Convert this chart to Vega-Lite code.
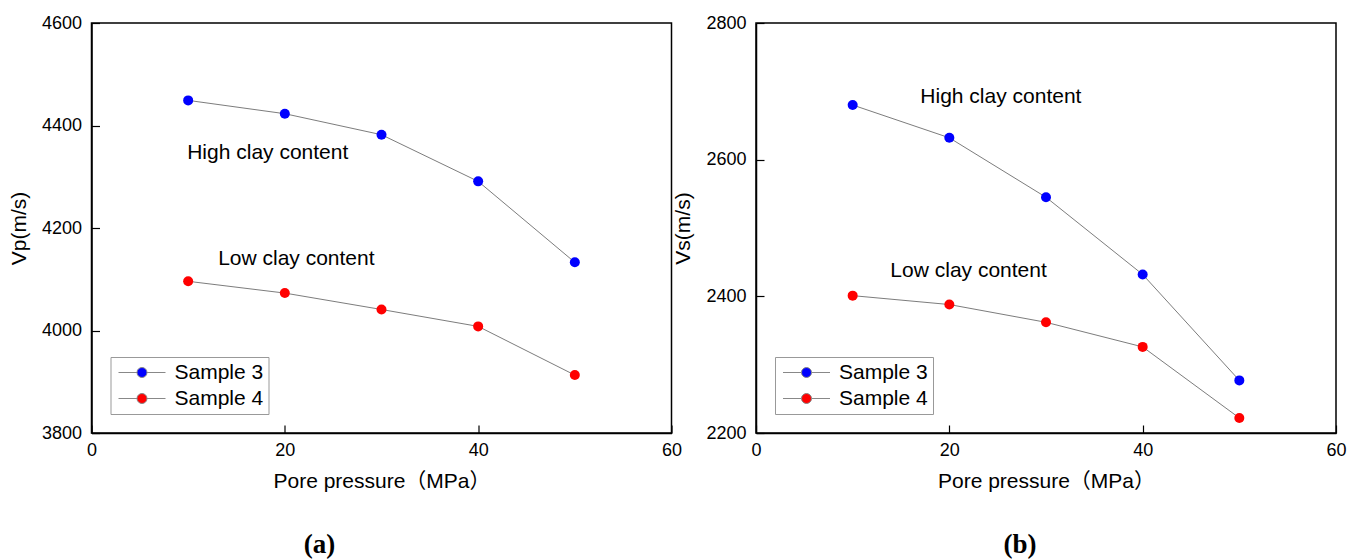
{
  "$schema": "https://vega.github.io/schema/vega-lite/v6.json",
  "background": "white",
  "padding": {"left": 7.5, "top": 13, "right": 5, "bottom": 5},
  "spacing": -10.5,
  "datasets": {
    "vp": [
      {"pressure": 10, "velocity": 4449, "sample": "Sample 3"},
      {"pressure": 20, "velocity": 4423, "sample": "Sample 3"},
      {"pressure": 30, "velocity": 4382, "sample": "Sample 3"},
      {"pressure": 40, "velocity": 4291, "sample": "Sample 3"},
      {"pressure": 50, "velocity": 4133, "sample": "Sample 3"},
      {"pressure": 10, "velocity": 4096, "sample": "Sample 4"},
      {"pressure": 20, "velocity": 4073, "sample": "Sample 4"},
      {"pressure": 30, "velocity": 4041, "sample": "Sample 4"},
      {"pressure": 40, "velocity": 4008, "sample": "Sample 4"},
      {"pressure": 50, "velocity": 3913, "sample": "Sample 4"}
    ],
    "vs": [
      {"pressure": 10, "velocity": 2680, "sample": "Sample 3"},
      {"pressure": 20, "velocity": 2632, "sample": "Sample 3"},
      {"pressure": 30, "velocity": 2545, "sample": "Sample 3"},
      {"pressure": 40, "velocity": 2432, "sample": "Sample 3"},
      {"pressure": 50, "velocity": 2277, "sample": "Sample 3"},
      {"pressure": 10, "velocity": 2401, "sample": "Sample 4"},
      {"pressure": 20, "velocity": 2388, "sample": "Sample 4"},
      {"pressure": 30, "velocity": 2362, "sample": "Sample 4"},
      {"pressure": 40, "velocity": 2326, "sample": "Sample 4"},
      {"pressure": 50, "velocity": 2222, "sample": "Sample 4"}
    ],
    "vp_notes": [
      {"pressure": 9.9, "velocity": 4347, "label": "High clay content"},
      {"pressure": 13.1, "velocity": 4139, "label": "Low clay content"}
    ],
    "vs_notes": [
      {"pressure": 17, "velocity": 2692, "label": "High clay content"},
      {"pressure": 13.9, "velocity": 2437, "label": "Low clay content"}
    ]
  },
  "config": {
    "font": "Liberation Sans",
    "view": {"stroke": "#000000", "strokeWidth": 1.5},
    "axis": {
      "domainColor": "#000000",
      "domainWidth": 1.5,
      "tickColor": "#000000",
      "tickWidth": 1.2,
      "tickSize": -8,
      "grid": false,
      "labelFlush": false,
      "labelOverlap": false,
      "format": "d",
      "labelFont": "Liberation Sans",
      "labelFontSize": 18,
      "labelColor": "#000000",
      "titleFont": "Liberation Sans, Noto Sans CJK SC",
      "titleFontSize": 21,
      "titleFontWeight": "normal",
      "titleColor": "#000000"
    },
    "legend": {
      "orient": "bottom-left",
      "offset": 19,
      "padding": 5,
      "strokeColor": "#999999",
      "fillColor": "#ffffff",
      "labelFont": "Liberation Sans",
      "labelFontSize": 21,
      "labelColor": "#000000",
      "labelOffset": 22,
      "rowPadding": 4,
      "symbolOffset": 16,
      "symbolType": "M-2.35,0L-0.5,0M0.5,0L2.35,0M0.5,0A0.5,0.5,0,1,1,-0.5,0A0.5,0.5,0,1,1,0.5,0",
      "symbolSize": 400,
      "symbolStrokeColor": "#888888",
      "symbolStrokeWidth": 1
    },
    "title": {
      "orient": "bottom",
      "font": "Liberation Serif",
      "fontSize": 27,
      "fontWeight": "bold",
      "color": "#000000",
      "offset": 41
    }
  },
  "hconcat": [
    {
      "width": 580,
      "height": 410,
      "title": {"text": "(a)", "dx": -62},
      "layer": [
        {
          "data": {"name": "vp"},
          "mark": {"type": "line", "color": "#5a5a5a", "strokeWidth": 0.8},
          "encoding": {
            "x": {"field": "pressure", "type": "quantitative", "scale": {"domain": [0, 60], "nice": false}, "axis": {"values": [0, 20, 40, 60], "title": "Pore pressure（MPa）", "labelPadding": 16, "titlePadding": 11}},
            "y": {"field": "velocity", "type": "quantitative", "scale": {"domain": [3800, 4600], "nice": false, "zero": false}, "axis": {"values": [3800, 4000, 4200, 4400, 4600], "title": "Vp(m/s)", "labelPadding": 18, "titlePadding": 12}},
            "detail": {"field": "sample"}
          }
        },
        {
          "data": {"name": "vp"},
          "mark": {"type": "point", "filled": true, "shape": "circle", "size": 100, "opacity": 1},
          "encoding": {
            "x": {"field": "pressure", "type": "quantitative"},
            "y": {"field": "velocity", "type": "quantitative"},
            "color": {"field": "sample", "type": "nominal", "scale": {"domain": ["Sample 3", "Sample 4"], "range": ["#0000ff", "#ff0000"]}, "legend": {"title": null}}
          }
        },
        {
          "data": {"name": "vp_notes"},
          "mark": {"type": "text", "align": "left", "baseline": "middle", "fontSize": 21, "font": "Liberation Sans", "color": "#000000"},
          "encoding": {
            "x": {"field": "pressure", "type": "quantitative"},
            "y": {"field": "velocity", "type": "quantitative"},
            "text": {"field": "label"}
          }
        }
      ]
    },
    {
      "width": 580,
      "height": 410,
      "title": {"text": "(b)", "dx": -26},
      "layer": [
        {
          "data": {"name": "vs"},
          "mark": {"type": "line", "color": "#5a5a5a", "strokeWidth": 0.8},
          "encoding": {
            "x": {"field": "pressure", "type": "quantitative", "scale": {"domain": [0, 60], "nice": false}, "axis": {"values": [0, 20, 40, 60], "title": "Pore pressure（MPa）", "labelPadding": 16, "titlePadding": 11}},
            "y": {"field": "velocity", "type": "quantitative", "scale": {"domain": [2200, 2800], "nice": false, "zero": false}, "axis": {"values": [2200, 2400, 2600, 2800], "title": "Vs(m/s)", "labelPadding": 18, "titlePadding": 12}},
            "detail": {"field": "sample"}
          }
        },
        {
          "data": {"name": "vs"},
          "mark": {"type": "point", "filled": true, "shape": "circle", "size": 100, "opacity": 1},
          "encoding": {
            "x": {"field": "pressure", "type": "quantitative"},
            "y": {"field": "velocity", "type": "quantitative"},
            "color": {"field": "sample", "type": "nominal", "scale": {"domain": ["Sample 3", "Sample 4"], "range": ["#0000ff", "#ff0000"]}, "legend": {"title": null}}
          }
        },
        {
          "data": {"name": "vs_notes"},
          "mark": {"type": "text", "align": "left", "baseline": "middle", "fontSize": 21, "font": "Liberation Sans", "color": "#000000"},
          "encoding": {
            "x": {"field": "pressure", "type": "quantitative"},
            "y": {"field": "velocity", "type": "quantitative"},
            "text": {"field": "label"}
          }
        }
      ]
    }
  ],
  "resolve": {"scale": {"y": "independent", "color": "independent"}, "legend": {"color": "independent"}}
}
